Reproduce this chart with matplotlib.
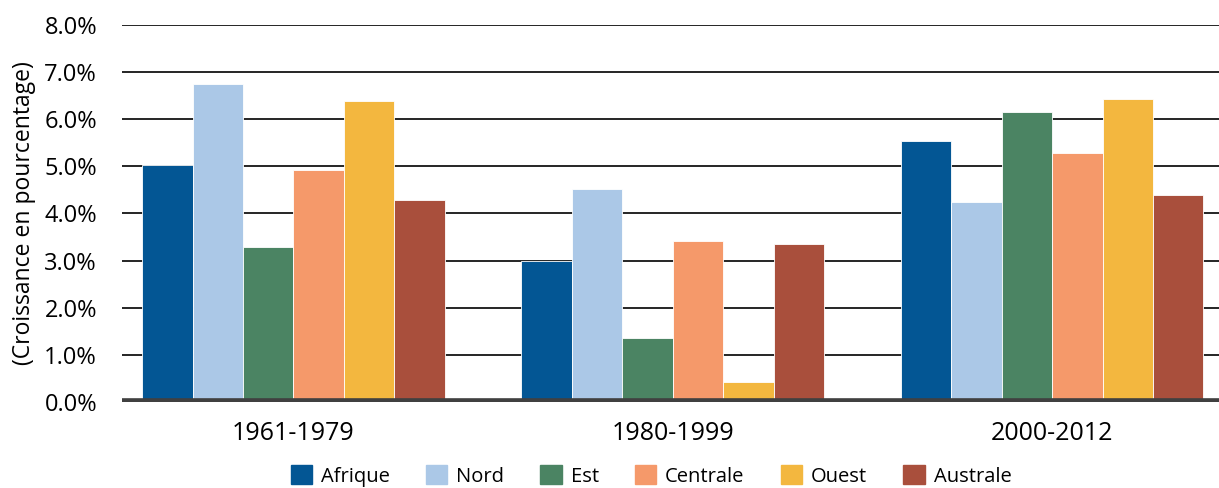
import numpy as np
import matplotlib.pyplot as plt
from matplotlib.patches import Patch

periodes = ['1961-1979', '1980-1999', '2000-2012']
regions = ['Afrique', 'Nord', 'Est', 'Centrale', 'Ouest', 'Australe']
couleurs = ['#035694', '#abc8e7', '#4b8463', '#f5996a', '#f3b73f', '#a94f3c']

afrique = [5.02, 2.99, 5.54]
nord = [6.74, 4.51, 4.24]
est = [3.29, 1.35, 6.16]
centrale = [4.92, 3.41, 5.28]
ouest = [6.38, 0.42, 6.43]
australe = [4.29, 3.36, 4.40]
series = [afrique, nord, est, centrale, ouest, australe]

plt.rcParams['font.family'] = ['Open Sans', 'DejaVu Sans']

fig = plt.figure(figsize=(12.19, 4.88), dpi=100)
ax = fig.add_axes([122 / 1219, 86 / 488, 1 - 122 / 1219, 377 / 488])

x = np.arange(len(periodes))
w = 0.133
for i, (vals, c) in enumerate(zip(series, couleurs)):
    ax.bar(x + (i - 2.5) * w, vals, w, color=c, edgecolor='white', linewidth=0.6, zorder=2)

ax.set_ylim(0, 8)
ax.set_xlim(-0.452, 2.44)
ax.set_yticks(np.arange(0, 8.1, 1))
ax.set_yticklabels([f'{v:.1f}%' for v in np.arange(0, 8.1, 1)], fontsize=17)
ax.yaxis.grid(True, color='black', linewidth=1.2, zorder=1)
ax.set_axisbelow(True)
ax.axhline(0, color='#404040', linewidth=5.5, zorder=3)
ax.set_xticks(x)
ax.set_xticklabels(periodes, fontsize=18)
ax.tick_params(axis='y', length=0, pad=18)
ax.tick_params(axis='x', length=0, pad=14)
for s in ax.spines.values():
    s.set_visible(False)
ax.set_ylabel('(Croissance en pourcentage)', fontsize=16.5, labelpad=6)

handles = [Patch(color=c) for c in couleurs]
fig.legend(handles, regions, loc='center', bbox_to_anchor=(651 / 1219, 12 / 488),
           ncol=6, frameon=False, handlelength=1.05, handleheight=1.05,
           columnspacing=1.8, handletextpad=0.45,
           prop={'family': ['Open Sans', 'DejaVu Sans'], 'size': 14.5})

fig.savefig('out.png', dpi=100)
